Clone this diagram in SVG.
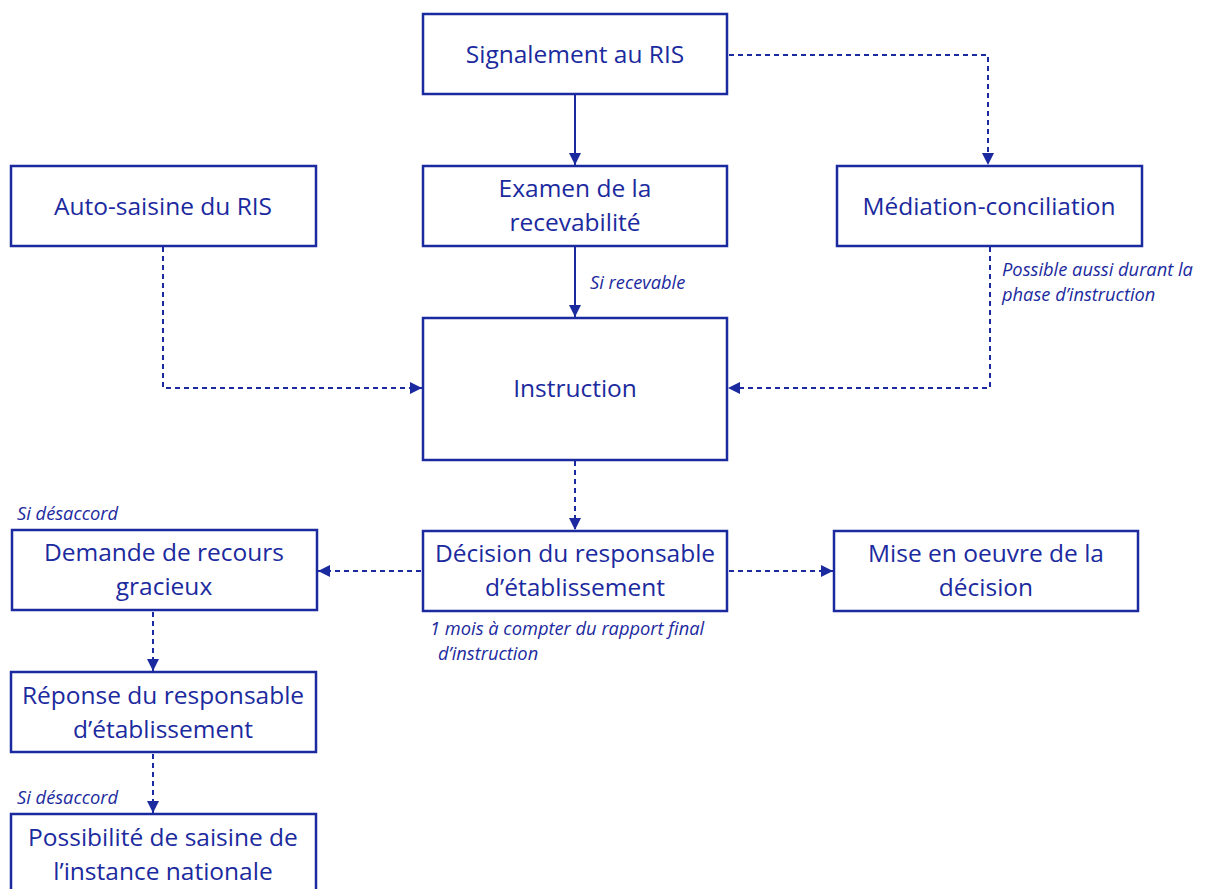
<svg xmlns="http://www.w3.org/2000/svg" width="1207" height="889" viewBox="0 0 1207 889">
<style>
.box{fill:#fff;stroke:#1b2a9e;stroke-width:2.5}
.t{font-family:"Open Sans",Lato,sans-serif;font-size:24.5px;fill:#1b2a9e;text-anchor:middle}
.n{font-family:"Open Sans",Lato,sans-serif;font-size:18.3px;font-style:italic;fill:#1b2a9e}
.c{fill:none;stroke:#1b2a9e;stroke-width:2}
.d{stroke-dasharray:5 4}
</style>
<defs>
<marker id="ah" viewBox="0 0 10 10" refX="10" refY="5" markerWidth="12" markerHeight="12" markerUnits="userSpaceOnUse" orient="auto">
<path d="M0,0 L10,5 L0,10 Z" fill="#1b2a9e"/>
</marker>
</defs>
<g id="connectors">
<path class="c" d="M575,94 V165" marker-end="url(#ah)"/>
<path class="c" d="M575,246 V317" marker-end="url(#ah)"/>
<path class="c d" d="M729,55 H988 V165" marker-end="url(#ah)"/>
<path class="c d" d="M163,247 V388 H422" marker-end="url(#ah)"/>
<path class="c d" d="M990,247 V388 H728" marker-end="url(#ah)"/>
<path class="c d" d="M575,461 V530" marker-end="url(#ah)"/>
<path class="c d" d="M421,571 H318" marker-end="url(#ah)"/>
<path class="c d" d="M729,571 H833" marker-end="url(#ah)"/>
<path class="c d" d="M153,612 V671" marker-end="url(#ah)"/>
<path class="c d" d="M153,754 V813" marker-end="url(#ah)"/>
</g>
<g id="signalement"><rect class="box" x="423" y="14" width="304" height="80"/><text class="t" x="575" y="63">Signalement au RIS</text></g>
<g id="examen"><rect class="box" x="423" y="166" width="304" height="80"/><text class="t" x="575" y="197">Examen de la</text><text class="t" x="575" y="231">recevabilité</text></g>
<g id="autosaisine"><rect class="box" x="11" y="166" width="305" height="80"/><text class="t" x="163" y="215">Auto-saisine du RIS</text></g>
<g id="mediation"><rect class="box" x="837" y="166" width="305" height="80"/><text class="t" x="989" y="215">Médiation-conciliation</text></g>
<g id="instruction"><rect class="box" x="423" y="318" width="304" height="142"/><text class="t" x="575" y="397">Instruction</text></g>
<g id="decision"><rect class="box" x="423" y="531" width="304" height="80"/><text class="t" x="575" y="562">Décision du responsable</text><text class="t" x="575" y="596">d’établissement</text></g>
<g id="miseenoeuvre"><rect class="box" x="834" y="531" width="304" height="80"/><text class="t" x="986" y="562">Mise en oeuvre de la</text><text class="t" x="986" y="596">décision</text></g>
<g id="demande"><rect class="box" x="12" y="530" width="305" height="80"/><text class="t" x="164" y="561">Demande de recours</text><text class="t" x="164" y="595">gracieux</text></g>
<g id="reponse"><rect class="box" x="11" y="672" width="305" height="80"/><text class="t" x="163" y="704">Réponse du responsable</text><text class="t" x="163" y="738">d’établissement</text></g>
<g id="possibilite"><rect class="box" x="11" y="814" width="305" height="80"/><text class="t" x="163" y="846">Possibilité de saisine de</text><text class="t" x="163" y="880">l’instance nationale</text></g>
<g id="labels">
<text class="n" x="590" y="289">Si recevable</text>
<text class="n" x="1002" y="276">Possible aussi durant la</text>
<text class="n" x="1002" y="301">phase d’instruction</text>
<text class="n" x="17" y="520">Si désaccord</text>
<text class="n" x="17" y="804">Si désaccord</text>
<text class="n" x="430" y="635">1 mois à compter du rapport final</text>
<text class="n" x="438" y="660">d’instruction</text>
</g>
</svg>
